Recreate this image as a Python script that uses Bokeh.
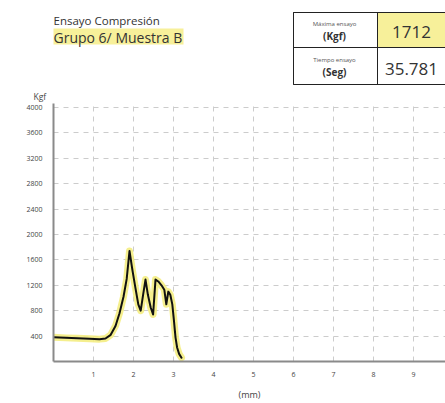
from bokeh.plotting import figure
from bokeh.layouts import column
from bokeh.models import ColumnDataSource, FixedTicker, Range1d, Title
from bokeh.core.properties import value
from bokeh.embed import file_html
from bokeh.resources import INLINE

# ---- data ----
desplazamiento_mm = [0.0, 0.3, 0.6, 0.9, 1.15, 1.3, 1.43, 1.55, 1.65, 1.75, 1.83, 1.9,
                     1.97, 2.05, 2.12, 2.18, 2.24, 2.3, 2.36, 2.43, 2.49, 2.55, 2.62,
                     2.7, 2.77, 2.82, 2.87, 2.92, 2.97, 3.01, 3.05, 3.09, 3.14, 3.2]
fuerza_kgf = [380, 372, 365, 358, 352, 362, 420, 560, 760, 1020, 1300, 1740,
              1450, 1150, 900, 800, 1050, 1290, 1050, 850, 740, 1290, 1260,
              1200, 1130, 900, 1100, 1050, 900, 650, 380, 220, 120, 60]
x_ticks = [1, 2, 3, 4, 5, 6, 7, 8, 9]
y_ticks = [400, 800, 1200, 1600, 2000, 2400, 2800, 3200, 3600, 4000]
titulo = "Ensayo Compresión"
subtitulo = "Grupo 6/ Muestra B"
tabla_etiquetas = ["Máxima ensayo", "Tiempo ensayo"]
tabla_unidades = ["(Kgf)", "(Seg)"]
tabla_valores = ["1712", "35.781"]

W = 445
HEAD_H = 85
LEFT = 53
FONT = "Open Sans"
TXT = "#333333"
YEL = "#f7f09a"

# ---------------- header figure (title + table), pixel-like coordinates ----------------
h = figure(width=W, height=HEAD_H, output_backend="svg", toolbar_location=None,
           x_range=Range1d(LEFT, W), y_range=Range1d(HEAD_H, 0),
           x_axis_location=None, y_axis_location=None,
           min_border_left=LEFT, min_border_right=0, min_border_top=0, min_border_bottom=0)
h.outline_line_color = None
h.xgrid.visible = False
h.ygrid.visible = False

# highlights
h.quad(left=[52, 377], right=[183, 452], top=[28, 12], bottom=[44, 47],
       fill_color=YEL, line_color=None)
# table borders
h.quad(left=[293, 293, 293], right=[452, 452, 377], top=[12, 47, 12], bottom=[47, 84, 84],
       fill_color=None, line_color="#222222", line_width=1)

def txt(x, y, t, size, align="left", color=TXT, style="normal"):
    h.text(x=[x], y=[y], text=[t], text_font=value(FONT), text_font_size=value(size),
           text_color=color, text_align=align, text_baseline="middle",
           text_font_style=style)

txt(53, 20, titulo, "11.5px")
txt(53, 36.5, subtitulo, "14px")
txt(334, 23, tabla_etiquetas[0], "6px", align="center", color="#555555")
txt(334, 35, tabla_unidades[0], "10px", align="center", style="bold")
txt(334, 59, tabla_etiquetas[1], "6px", align="center", color="#555555")
txt(334, 71, tabla_unidades[1], "10px", align="center", style="bold")
txt(411, 31, tabla_valores[0], "17px", align="center")
txt(411, 68, tabla_valores[1], "17px", align="center")

# ---------------- chart ----------------
src = ColumnDataSource(dict(x=desplazamiento_mm, y=fuerza_kgf))

p = figure(width=W, height=403 - HEAD_H, output_backend="svg", toolbar_location=None,
           x_range=Range1d(0, 9.8), y_range=Range1d(0, 4062),
           min_border_left=LEFT, min_border_right=0, min_border_top=103 - HEAD_H,
           min_border_bottom=40)
p.outline_line_color = None
p.title = Title(text="Kgf", align="left", offset=-20, standoff=0, vertical_align="top",
                text_font=FONT, text_font_size="8.5px", text_font_style="normal",
                text_color="#444444")

p.xgrid.ticker = FixedTicker(ticks=x_ticks)
p.ygrid.ticker = FixedTicker(ticks=y_ticks)
for g in (p.xgrid, p.ygrid):
    g.grid_line_color = "#cccccc"
    g.grid_line_dash = "5 5"
    g.grid_line_width = 1

p.xaxis.ticker = FixedTicker(ticks=x_ticks)
p.yaxis.ticker = FixedTicker(ticks=y_ticks)
for ax in (p.xaxis, p.yaxis):
    ax.axis_line_color = "#8a8a8a"
    ax.axis_line_width = 2
    ax.major_tick_line_color = None
    ax.minor_tick_line_color = None
    ax.major_label_text_font = FONT
    ax.major_label_text_font_size = "7px"
    ax.major_label_text_color = "#444444"
p.xaxis.major_label_standoff = 4
p.yaxis.major_label_standoff = 5
p.xaxis.axis_label = "(mm)"
p.xaxis.axis_label_text_font = FONT
p.xaxis.axis_label_text_font_style = "normal"
p.xaxis.axis_label_text_font_size = "9px"
p.xaxis.axis_label_text_color = "#444444"
p.xaxis.axis_label_standoff = 8

p.line("x", "y", source=src, line_color="#f3ec7a", line_width=7, line_alpha=0.85,
       line_join="round", line_cap="round")
p.line("x", "y", source=src, line_color="#111111", line_width=2,
       line_join="round", line_cap="round")

open("out.html", "w").write(file_html(column(h, p, spacing=0), INLINE))
